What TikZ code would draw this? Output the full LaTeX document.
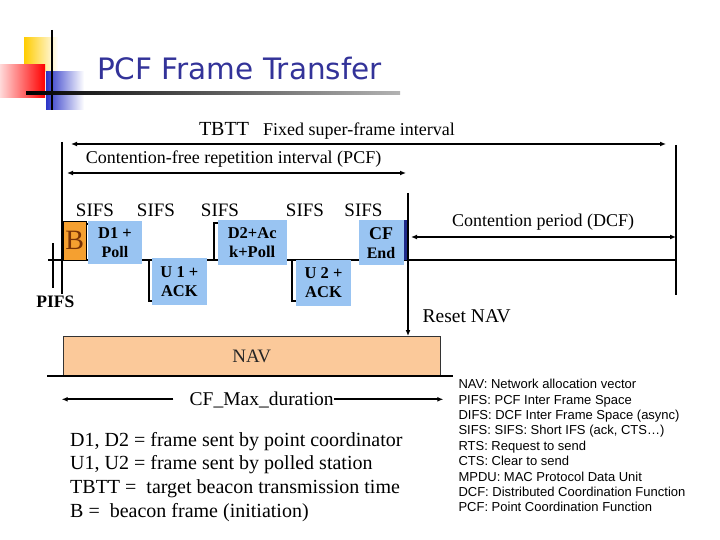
\documentclass[tikz,border=0pt]{standalone}
\usepackage{fontspec}
\setmainfont{Liberation Serif}
\setsansfont{Liberation Sans}
\newfontfamily\titlefont{DejaVu Sans}
\usepackage{tikz}
\usetikzlibrary{calc,arrows.meta,backgrounds}
\definecolor{pcf-title}{HTML}{333399}
\definecolor{pcf-frame}{HTML}{99C4F2}
\definecolor{pcf-beacon}{HTML}{F5A030}
\definecolor{pcf-btext}{HTML}{7A3306}
\definecolor{pcf-nav}{HTML}{FBC99A}
\definecolor{pcf-bar}{HTML}{1F2A8A}
\definecolor{pcf-yellow}{HTML}{FFCC00}
\definecolor{pcf-blue}{HTML}{2B35C8}
\tikzset{
  fs/.style={font=\fontsize{#1}{#1}\selectfont},
  framebox/.style={fill=pcf-frame, anchor=north west, inner sep=0pt, align=center,
    font=\fontsize{16.5}{19}\selectfont\bfseries},
  tline/.style={line width=2.4pt},
  bracket/.style={line width=2pt},
  arr/.style={line width=1.8pt},
}

\begin{document}
\begin{tikzpicture}[x=1pt, y=-1pt, >={Latex[length=6pt,width=5pt]}]
    \useasboundingbox (0,0) rectangle (720,540);
    % title corner
    \shade[left color=pcf-yellow, middle color=pcf-yellow, right color=white] (24,38) rectangle (58,72);
    \shade[left color=red!15, right color=red] (0,65) rectangle (45,98);
    \shade[left color=pcf-blue, middle color=pcf-blue!85, right color=white] (46,72) rectangle (84,110);
    \draw[line width=2pt] (52,30) -- (52,110);
    \shade[left color=black, right color=black!30] (26,92) rectangle (400,94.5);
    \node[font=\titlefont\fontsize{29.5}{30}\selectfont, text=pcf-title, anchor=base west, inner sep=0pt] (title) at (97,80) {PCF Frame Transfer};

    % intervals
    \coordinate (tbttTop) at (62,142);
    \coordinate (tbttBot) at (62,294);
    \coordinate (pifsTop) at (53,243);
    \coordinate (pifsBot) at (53,288);
    \coordinate (cpTop) at (408,193);
    \coordinate (sfTop) at (676,145);
    \coordinate (sfBot) at (676,295);
    \coordinate (baseL) at (48,260);
    \coordinate (baseR) at (676,260);
    \coordinate (sfL) at (71,144);
    \coordinate (sfR) at (666,144);
    \coordinate (cfrL) at (67,173);
    \coordinate (cfrR) at (406,173);
    \coordinate (cpL) at (411,237);
    \coordinate (cpR) at (676,237);

    \node[fs=20, anchor=base] (tbtt) at (224,135.5) {TBTT};
    \node[fs=18, anchor=base] (sfi) at (359,135.5) {Fixed super-frame interval};
    \node[fs=18, anchor=base] (cfri) at (233.5,164) {Contention-free repetition interval (PCF)};
    \draw[arr,<->] (sfL) -- (sfR);
    \draw[arr,<->] (cfrL) -- (cfrR);

    \node[fs=19, anchor=base] (sifs1) at (95,217) {SIFS};
    \node[fs=19, anchor=base] (sifs2) at (156,217) {SIFS};
    \node[fs=19, anchor=base] (sifs3) at (220,217) {SIFS};
    \node[fs=19, anchor=base] (sifs4) at (305,217) {SIFS};
    \node[fs=19, anchor=base] (sifs5) at (363.5,217) {SIFS};

    % frames
    \node[fill=pcf-beacon, draw=black, line width=1pt, anchor=north west, inner sep=0pt,
      minimum width=23pt, minimum height=39.3pt, text=pcf-btext, fs=28] (b) at (62.7,220.7) {B};
    \node[framebox, minimum width=54.3pt, minimum height=43.3pt] (d1) at (87.7,220.7)
      {D1 +\\\fontsize{16}{19}\selectfont Poll};
    \node[framebox, minimum width=55pt, minimum height=47pt] (u1) at (151.7,258)
      {U 1 +\\ACK};
    \node[framebox, minimum width=69.4pt, minimum height=45pt] (d2) at (217.3,220)
      {D2+Ac\\k+Poll};
    \node[framebox, minimum width=54.7pt, minimum height=46.7pt] (u2) at (296,259.3)
      {U 2 +\\ACK};
    \node[framebox, minimum width=45pt, minimum height=45pt] (cf) at (358.3,220)
      {\fontsize{18}{19}\selectfont CF\\\fontsize{16}{19}\selectfont End};
    \node[fill=pcf-bar, anchor=north west, inner sep=0pt, minimum width=5pt, minimum height=40pt] (cfbar) at (403.3,220) {};

    \begin{scope}[on background layer]
        \draw[tline] (baseL) -- (baseR);
        \draw[bracket] ($(d1.north west)+(2,3)$) -| ($(d1.south west)+(-2,-4)$) -- ++(5,0);
        \draw[bracket] ($(u1.north west)+(2,2)$) -| ($(u1.south west)+(-3,-4)$) -- ++(5,0);
        \draw[bracket] ($(d2.north west)+(2,3)$) -| ($(d2.south west)+(-3,-5)$) -- ++(5,0);
        \draw[bracket] ($(u2.north west)+(2,1)$) -| ($(u2.south west)+(-4,-5)$) -- ++(5,0);
    \end{scope}

    \draw[tline] (tbttTop) -- (tbttBot);
    \draw[tline] (pifsTop) -- (pifsBot);
    \draw[tline] (sfTop) -- (sfBot);
    \node[font=\fontsize{17.5}{18}\selectfont\bfseries, anchor=base] (pifs) at (55.3,307) {PIFS};

    \node[fs=18, anchor=base] (cpd) at (543,226) {Contention period (DCF)};
    \draw[arr,<->] (cpL) -- (cpR);
    \node[fs=19.5, anchor=base] (reset) at (466.7,322) {Reset NAV};

    % NAV
    \node[draw=black!80, line width=1pt, fill=pcf-nav, anchor=north west, inner sep=0pt,
      minimum width=377.3pt, minimum height=39.7pt, fs=19, text=black!85] (nav) at (62.7,336) {NAV};
    \draw[tline,->] (cpTop) -- (cpTop |- nav.north);
    \coordinate (navL) at (47,376);
    \coordinate (navR) at (453,376);
    \draw[tline] (navL) -- (navR);

    \coordinate (cfmaxL) at (61.7,399.3);
    \coordinate (cfmaxR) at (443.3,399.3);
    \node[fs=19.5, anchor=base, inner sep=0pt] (cfmax) at (261.7,405) {CF\_Max\_duration};
    \coordinate (cfmaxGap) at ([xshift=-16pt]cfmax.west);
    \draw[arr,->] (cfmaxGap |- cfmaxL) -- (cfmaxL);
    \draw[arr,->] (cfmax.east |- cfmaxR) -- (cfmaxR);

    % legends
    \node[font=\fontsize{20}{23.7}\selectfont, align=left, anchor=north west, inner sep=0pt] (legend) at (70,431.8)
      {D1, D2 = frame sent by point coordinator\\
       U1, U2 = frame sent by polled station\\
       TBTT =~ target beacon transmission time\\
       B =~ beacon frame (initiation)};
    \node[font=\sffamily\fontsize{13}{15.4}\selectfont, align=left, anchor=north west, inner sep=0pt] (abbrev) at (458.3,379)
      {NAV: Network allocation vector\\
       PIFS: PCF Inter Frame Space\\
       DIFS: DCF Inter Frame Space (async)\\
       SIFS: SIFS: Short IFS (ack, CTS…)\\
       RTS: Request to send\\
       CTS: Clear to send\\
       MPDU: MAC Protocol Data Unit\\
       DCF: Distributed Coordination Function\\
       PCF: Point Coordination Function};
\end{tikzpicture}
\end{document}
